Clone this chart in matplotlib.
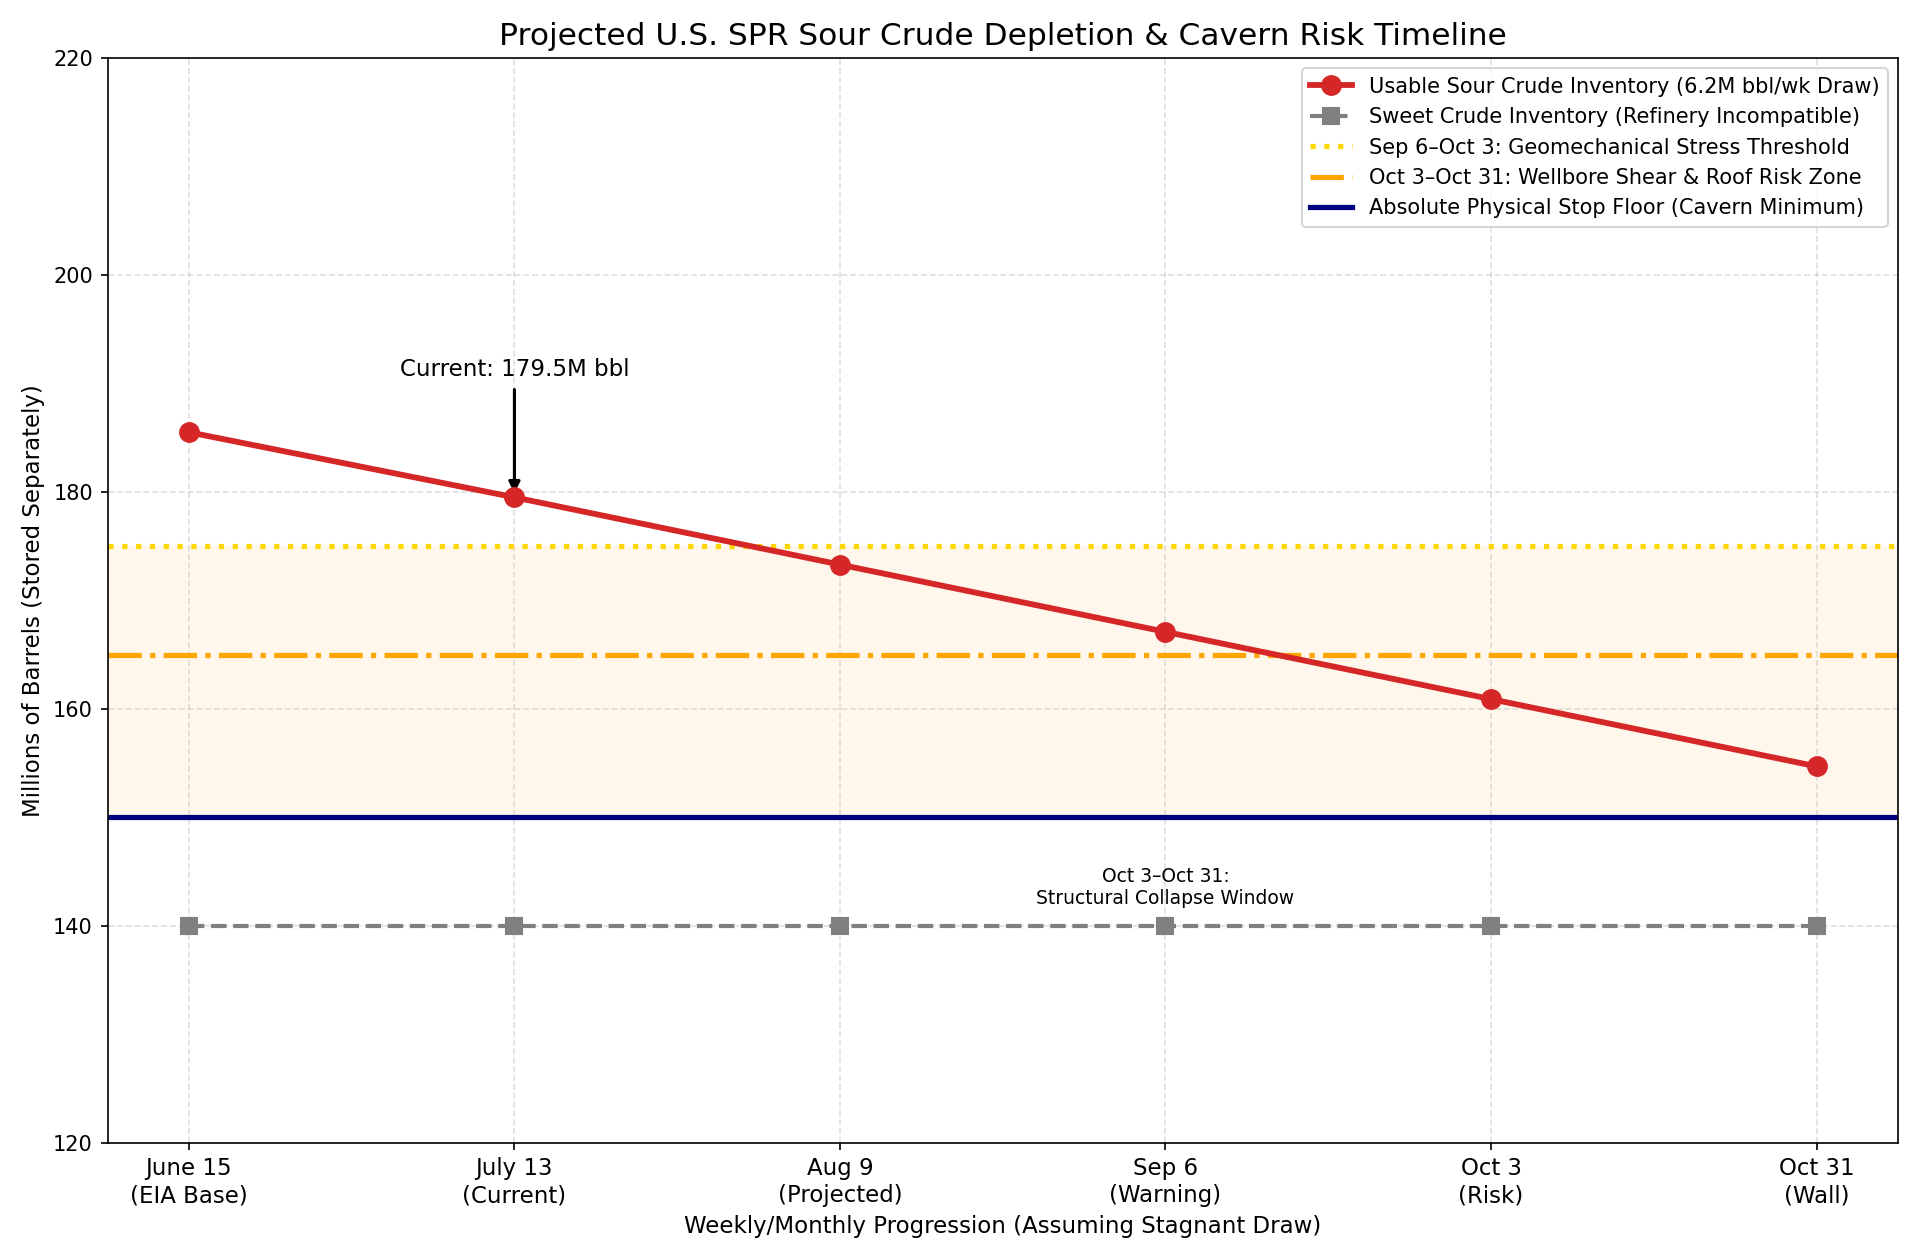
#!/usr/bin/env python3
# -*- coding: utf-8 -*-

import numpy as np
import matplotlib
matplotlib.use("Agg")
import matplotlib.pyplot as plt

# --- data ---
periods = ["June 15\n(EIA Base)", "July 13\n(Current)", "Aug 9\n(Projected)",
           "Sep 6\n(Warning)", "Oct 3\n(Risk)", "Oct 31\n(Wall)"]
sour_inventory = [185.5, 179.5, 173.3, 167.1, 160.9, 154.7]
sweet_inventory = [140, 140, 140, 140, 140, 140]

stress_threshold = 175
shear_risk = 165
stop_floor = 150

current_idx = 1
current_label = "Current: 179.5M bbl"
collapse_idx = 3
collapse_note = "Oct 3\u2013Oct 31:\nStructural Collapse Window"


def main() -> None:
    x = np.arange(len(periods))

    fig, ax = plt.subplots(figsize=(12.8, 8.4), dpi=150)
    fig.subplots_adjust(left=0.056, right=0.9885, top=0.954, bottom=0.093)

    ax.axhspan(stop_floor, stress_threshold, color="orange", alpha=0.08, lw=0)

    ax.plot(x, sour_inventory, color="#d62728", marker="o", markersize=9, lw=2.8,
            label="Usable Sour Crude Inventory (6.2M bbl/wk Draw)", zorder=4)
    ax.plot(x, sweet_inventory, color="gray", marker="s", markersize=8, lw=2, ls="--",
            label="Sweet Crude Inventory (Refinery Incompatible)", zorder=3)

    ax.axhline(stress_threshold, color="gold", ls=":", lw=2.5,
               label="Sep 6\u2013Oct 3: Geomechanical Stress Threshold")
    ax.axhline(shear_risk, color="orange", ls="-.", lw=2.5,
               label="Oct 3\u2013Oct 31: Wellbore Shear & Roof Risk Zone")
    ax.axhline(stop_floor, color="navy", ls="-", lw=2.5,
               label="Absolute Physical Stop Floor (Cavern Minimum)")

    ax.annotate(current_label, xy=(x[current_idx], sour_inventory[current_idx]),
                xytext=(x[current_idx], 190.2), ha="center", va="bottom", fontsize=11,
                arrowprops=dict(arrowstyle="-|>", color="black", lw=1.5))

    ax.text(x[collapse_idx], 141.6, collapse_note, ha="center", va="bottom", fontsize=9)

    ax.set_ylim(120, 220)
    ax.set_yticks(np.arange(120, 221, 20))
    ax.set_xticks(x)
    ax.set_xticklabels(periods, fontsize=11)
    ax.tick_params(axis="y", labelsize=10)

    ax.set_title("Projected U.S. SPR Sour Crude Depletion & Cavern Risk Timeline", fontsize=15)
    ax.set_xlabel("Weekly/Monthly Progression (Assuming Stagnant Draw)", fontsize=11)
    ax.set_ylabel("Millions of Barrels (Stored Separately)", fontsize=11)
    ax.grid(True, ls="--", alpha=0.4)
    ax.legend(loc="upper right", fontsize=10)

    fig.savefig("out.png", dpi=150)
    plt.close(fig)


if __name__ == "__main__":
    main()
